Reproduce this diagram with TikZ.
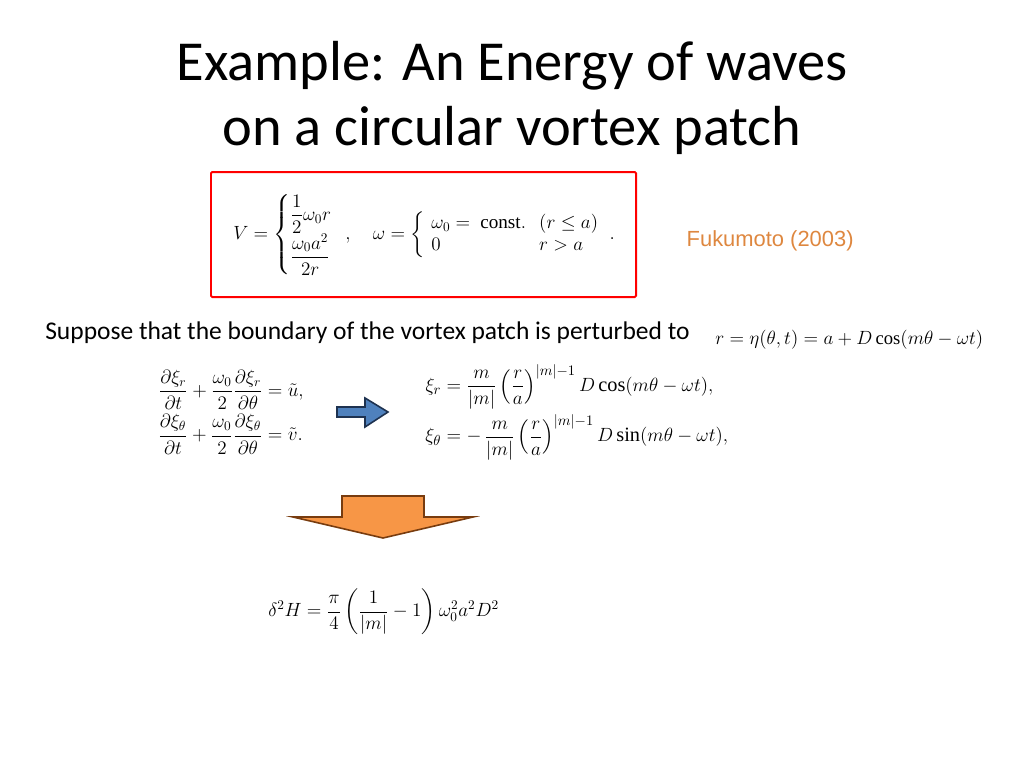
\documentclass[tikz,border=0pt]{standalone}
\usepackage{fontspec}
\usepackage{amsmath}
\setmainfont{Liberation Serif}
\newfontfamily\calib{Carlito}
\newfontfamily\arial{Liberation Sans}
\definecolor{orng}{RGB}{247,150,70}
\definecolor{brn}{RGB}{120,60,15}
\definecolor{blu}{RGB}{79,129,189}
\definecolor{dblu}{RGB}{30,50,80}
\begin{document}
\begin{tikzpicture}[x=0.02646cm,y=-0.02646cm,
  eq/.style={inner sep=0pt,font=\fontsize{14.4}{17}\selectfont}]
\useasboundingbox (0,0) rectangle (1024,768);
\node[font=\calib\fontsize{42.5}{49}\selectfont,align=center] (t) at (512,98) {Example: An Energy of waves\\on a circular vortex patch};
\draw[red,line width=1.5pt,rounded corners=1pt] (211,172) rectangle (636,297);
\node[eq] (v) at (424,235) {$V=\begin{cases}\dfrac{1}{2}\omega_0 r\\[4pt] \dfrac{\omega_0a^2}{2r}\end{cases}\!\!\!,\quad \omega=\left\{\begin{array}{ll}\omega_0=\ \mathrm{const.} & (r\le a)\\ 0 & r>a\end{array}\right. .$};
\node[font=\arial\fontsize{16.5}{19}\selectfont,text=orng!90!black,anchor=west] (f) at (682,241) {Fukumoto (2003)};
\node[font=\calib\fontsize{19.2}{22}\selectfont,anchor=west,inner sep=0pt] (s) at (45,333) {Suppose that the boundary of the vortex patch is perturbed to};
\node[eq,anchor=west,font=\fontsize{14}{17}\selectfont] (r) at (715,340) {$r=\eta(\theta,t)=a+D\cos(m\theta-\omega t)$};
\node[eq,anchor=west,font=\fontsize{14.8}{17}\selectfont] (l) at (158,412) {$\begin{aligned}\frac{\partial\xi_r}{\partial t}+\frac{\omega_0}{2}\frac{\partial\xi_r}{\partial\theta}&=\tilde u,\\[0pt] \frac{\partial\xi_\theta}{\partial t}+\frac{\omega_0}{2}\frac{\partial\xi_\theta}{\partial\theta}&=\tilde v.\end{aligned}$};
\node[eq,anchor=west,font=\fontsize{15.3}{18}\selectfont] (rr) at (425,412) {$\begin{aligned}\xi_r&=\frac{m}{|m|}\left(\frac{r}{a}\right)^{|m|-1}D\cos(m\theta-\omega t),\\[0pt] \xi_\theta&=-\,\frac{m}{|m|}\left(\frac{r}{a}\right)^{|m|-1}D\sin(m\theta-\omega t),\end{aligned}$};
\draw[fill=blu,draw=dblu,line width=1.2pt] (337,407)--(365,407)--(365,398)--(388,412)--(365,427)--(365,417)--(337,417)--cycle;
\draw[fill=orng,draw=brn,line width=1.2pt] (342,496)--(424,496)--(424,517)--(473,517)--(383,538)--(293,517)--(342,517)--cycle;
\node[eq,anchor=west,font=\fontsize{14.6}{17}\selectfont] (h) at (268,612) {$\delta^2H=\dfrac{\pi}{4}\left(\dfrac{1}{|m|}-1\right)\omega_0^2a^2D^2$};
\end{tikzpicture}
\end{document}
